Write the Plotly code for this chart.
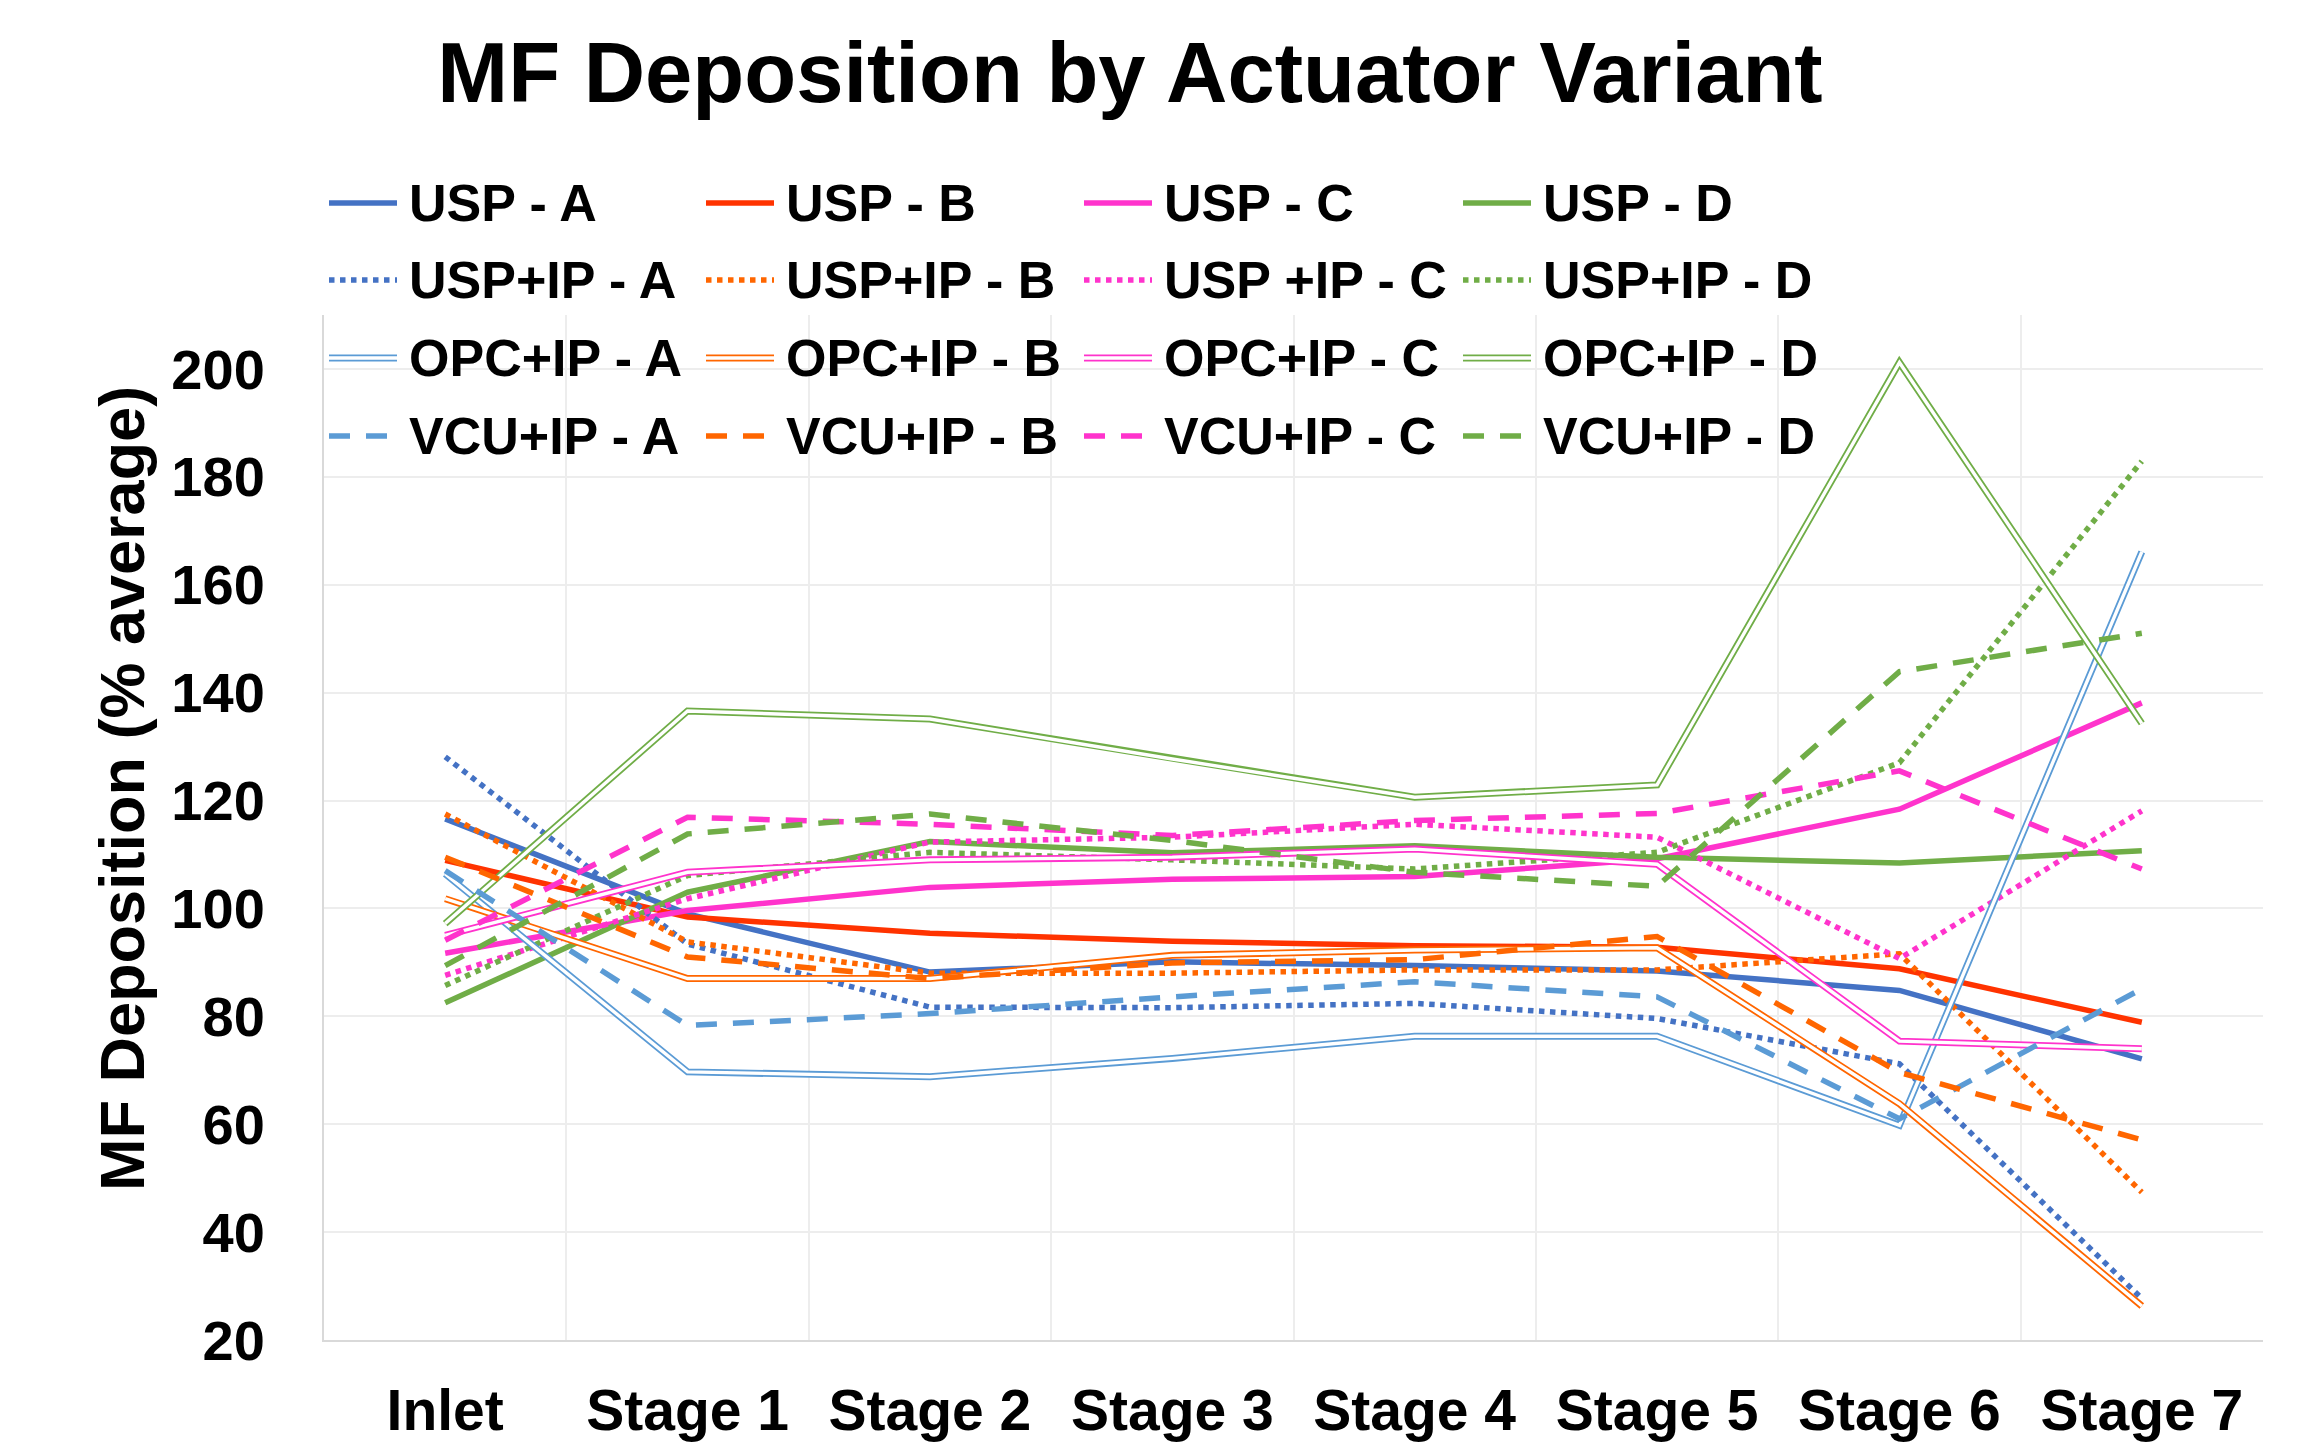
import plotly.graph_objects as go

# ---------------- data ----------------
categories = ["Inlet", "Stage 1", "Stage 2", "Stage 3", "Stage 4", "Stage 5", "Stage 6", "Stage 7"]

usp_a = [116.6, 99.0, 88.2, 90.1, 89.4, 88.4, 84.8, 72.1]
usp_b = [108.9, 98.4, 95.4, 93.9, 93.1, 92.8, 88.8, 78.9]
usp_c = [91.7, 99.6, 103.9, 105.4, 105.9, 109.2, 118.4, 138.1]
usp_d = [82.5, 103.0, 112.4, 110.3, 111.6, 109.5, 108.4, 110.7]

uspip_a = [128.1, 93.4, 81.7, 81.6, 82.4, 79.6, 71.2, 27.7]
uspip_b = [117.5, 93.8, 88.0, 88.0, 88.6, 88.6, 91.6, 47.4]
uspip_c = [87.6, 101.8, 112.3, 113.2, 115.6, 113.2, 90.7, 118.1]
uspip_d = [85.7, 106.1, 110.4, 109.0, 107.3, 110.4, 127.0, 182.9]

opcip_a = [106.4, 69.7, 68.8, 72.2, 76.3, 76.3, 59.8, 166.1]
opcip_b = [101.8, 87.0, 87.0, 91.3, 92.3, 92.7, 63.8, 26.3]
opcip_c = [95.0, 106.7, 109.0, 109.5, 111.0, 108.2, 75.4, 74.0]
opcip_d = [97.2, 136.6, 135.1, 127.7, 120.6, 122.9, 201.2, 134.3]

vcuip_a = [107.0, 78.3, 80.5, 83.6, 86.4, 83.6, 61.0, 85.1]
vcuip_b = [109.5, 91.0, 87.0, 89.9, 90.5, 94.8, 69.6, 57.1]
vcuip_c = [94.1, 116.9, 115.6, 113.5, 116.3, 117.6, 125.5, 107.3]
vcuip_d = [89.4, 113.8, 117.5, 112.6, 106.7, 104.1, 143.9, 151.0]

series_names = [
    "USP - A", "USP - B", "USP - C", "USP - D",
    "USP+IP - A", "USP+IP - B", "USP +IP - C", "USP+IP - D",
    "OPC+IP - A", "OPC+IP - B", "OPC+IP - C", "OPC+IP - D",
    "VCU+IP - A", "VCU+IP - B", "VCU+IP - C", "VCU+IP - D",
]
series_values = [
    usp_a, usp_b, usp_c, usp_d,
    uspip_a, uspip_b, uspip_c, uspip_d,
    opcip_a, opcip_b, opcip_c, opcip_d,
    vcuip_a, vcuip_b, vcuip_c, vcuip_d,
]

y_tick_values = [20, 40, 60, 80, 100, 120, 140, 160, 180, 200]

# ---------------- styles ----------------
BLUE = "#4472C4"
LBLUE = "#5B9BD5"
RED = "#FF3300"
ORANGE = "#FF6600"
PINK = "#FF33CC"
GREEN = "#70AD47"

series_colors = [
    BLUE, RED, PINK, GREEN,
    BLUE, ORANGE, PINK, GREEN,
    LBLUE, ORANGE, PINK, GREEN,
    LBLUE, ORANGE, PINK, GREEN,
]
series_kinds = ["solid"] * 4 + ["dot"] * 4 + ["double"] * 4 + ["dash"] * 4

LW = 5.5
DOT = "5.5px,5.5px"
DASH = "21px,16px"
DBL_OUT = 7
DBL_IN = 3.4

# the page body adds an 8 px offset; targets below are in window pixels
OFF = 8
W, H = 2312 - OFF, 1451 - OFF
PLOT_L, PLOT_R, PLOT_T, PLOT_B = 324, 2263, 315, 1340   # window pixels
L = PLOT_L - OFF
T = PLOT_T - OFF
R = W - (PLOT_R - OFF)
B = H - (PLOT_B - OFF)
PW = W - L - R
PH = H - T - B


def px_x(x):
    return (x - PLOT_L) / PW


def px_y(y):
    return (PLOT_B - y) / PH


FONT = "Liberation Sans, Arial, sans-serif"

fig = go.Figure()

for name, vals, col, kind in zip(series_names, series_values, series_colors, series_kinds):
    if kind == "double":
        fig.add_trace(go.Scatter(x=categories, y=vals, mode="lines", name=name,
                                 line=dict(color=col, width=DBL_OUT), showlegend=False))
        fig.add_trace(go.Scatter(x=categories, y=vals, mode="lines", name=name,
                                 line=dict(color="white", width=DBL_IN), showlegend=False,
                                 hoverinfo="skip"))
    else:
        dash = {"solid": "solid", "dot": DOT, "dash": DASH}[kind]
        fig.add_trace(go.Scatter(x=categories, y=vals, mode="lines", name=name,
                                 line=dict(color=col, width=LW, dash=dash), showlegend=False))

# ---------------- manual legend ----------------
col_x = [329, 706, 1084, 1463]
row_y = [203, 280, 358, 436]
SYM_LEN = 68
TXT_GAP = 78
shapes = []
annotations = []
for i, (name, col, kind) in enumerate(zip(series_names, series_colors, series_kinds)):
    r, c = divmod(i, 4)
    x0 = px_x(col_x[c])
    x1 = px_x(col_x[c] + SYM_LEN)
    yy = px_y(row_y[r])
    if kind == "double":
        shapes.append(dict(type="line", xref="paper", yref="paper", x0=x0, x1=x1, y0=yy, y1=yy,
                           line=dict(color=col, width=DBL_OUT)))
        shapes.append(dict(type="line", xref="paper", yref="paper", x0=x0, x1=x1, y0=yy, y1=yy,
                           line=dict(color="white", width=DBL_IN)))
    else:
        dash = {"solid": "solid", "dot": DOT, "dash": DASH}[kind]
        shapes.append(dict(type="line", xref="paper", yref="paper", x0=x0, x1=x1, y0=yy, y1=yy,
                           line=dict(color=col, width=LW, dash=dash)))
    annotations.append(dict(text=name, xref="paper", yref="paper",
                            x=px_x(col_x[c] + TXT_GAP), y=yy, xanchor="left", yanchor="middle",
                            showarrow=False,
                            font=dict(family=FONT, size=52, color="black", weight="bold")))

# y-axis title placed as rotated text left of the tick labels
annotations.append(dict(text="MF Deposition (% average)", xref="paper", yref="paper",
                        x=px_x(122), y=px_y(789), xanchor="center", yanchor="middle",
                        textangle=-90, showarrow=False,
                        font=dict(family=FONT, size=63, color="black", weight="bold")))

fig.update_layout(
    width=W, height=H,
    margin=dict(l=L, r=R, t=T, b=B, pad=0, autoexpand=False),
    paper_bgcolor="white", plot_bgcolor="white",
    showlegend=False,
    title=dict(text="MF Deposition by Actuator Variant", xref="container", yref="container",
               x=(1130 - OFF) / W, y=1 - (72 - OFF) / H, xanchor="center", yanchor="middle",
               font=dict(family=FONT, size=85, color="black", weight="bold")),
    shapes=shapes,
    annotations=annotations,
)

fig.update_xaxes(
    type="category", categoryorder="array", categoryarray=categories,
    range=[-0.5, len(categories) - 0.5], automargin=False,
    tickson="boundaries", showgrid=True, gridcolor="#EDEDED", gridwidth=2,
    showline=True, linecolor="#D9D9D9", linewidth=2,
    ticks="", ticklabelstandoff=20,
    tickfont=dict(family=FONT, size=57, color="black", weight="bold"),
)
fig.update_yaxes(
    range=[20, 210], tickmode="array", tickvals=y_tick_values, automargin=False,
    showgrid=True, gridcolor="#EDEDED", gridwidth=2, zeroline=False,
    showline=True, linecolor="#D9D9D9", linewidth=2,
    ticks="", ticklabelstandoff=46,
    tickfont=dict(family=FONT, size=56, color="black", weight="bold"),
)

fig.write_html("out.html")
